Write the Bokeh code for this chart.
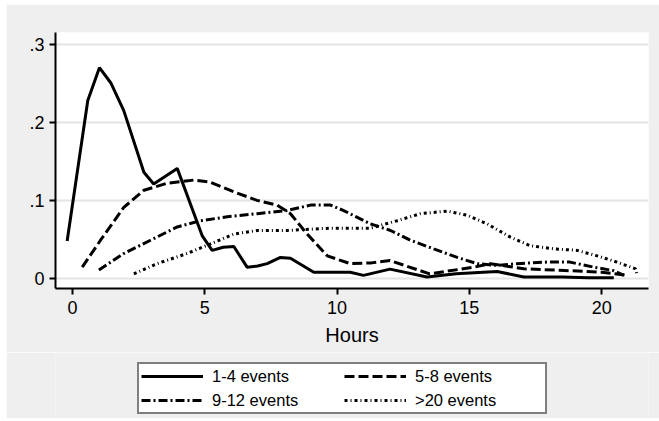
from bokeh.plotting import figure
from bokeh.layouts import column
from bokeh.models import Range1d, Legend, LegendItem, FixedTicker
from bokeh.embed import file_html
from bokeh.resources import INLINE

# ---- data ----
x_1_4 = [-0.2, 0.58, 1.02, 1.46, 1.94, 2.7, 3.07, 3.96, 4.9, 5.28, 5.7, 6.1, 6.6, 7.0, 7.36, 7.86, 8.24, 9.12, 9.75,
         10.5, 11.0, 12.0, 13.4, 14.5, 16.05, 17.06, 18.5, 19.5, 20.46]
y_1_4 = [0.048, 0.228, 0.270, 0.250, 0.215, 0.136, 0.121, 0.141, 0.055, 0.036, 0.040, 0.041, 0.0145, 0.016, 0.019, 0.027, 0.026, 0.008, 0.008,
         0.008, 0.004, 0.012, 0.002, 0.006, 0.009, 0.002, 0.002, 0.001, 0.001]

x_5_8 = [0.37, 1.06, 1.94, 2.7, 3.58, 4.58, 5.2, 6.1, 6.98, 7.74, 8.24, 8.87, 9.63, 10.5, 11.3, 12.0, 13.5, 15.17, 15.8, 17.06, 18.6, 20.0, 20.96]
y_5_8 = [0.0145, 0.049, 0.091, 0.113, 0.122, 0.126, 0.1235, 0.111, 0.100, 0.094, 0.083, 0.057, 0.029, 0.019, 0.020, 0.023, 0.006, 0.0145, 0.019, 0.0124, 0.0103, 0.008, 0.004]

x_9_12 = [1.0, 1.94, 2.95, 3.96, 4.84, 5.85, 6.98, 8.11, 9.0, 9.75, 10.25, 11.26, 12.02, 12.77, 13.65, 14.54, 15.3, 16.05, 16.8, 17.94, 18.8, 19.7, 20.46, 20.84]
y_9_12 = [0.011, 0.032, 0.049, 0.066, 0.074, 0.079, 0.083, 0.087, 0.094, 0.094, 0.087, 0.070, 0.0615, 0.049, 0.038, 0.027, 0.019, 0.0167, 0.019, 0.021, 0.021, 0.0145, 0.010, 0.004]

x_20 = [2.32, 3.2, 4.33, 5.2, 6.1, 6.98, 8.11, 9.75, 11.26, 12.27, 13.15, 14.16, 14.92, 15.67, 16.55, 17.3, 18.19, 19.07, 19.83, 20.58, 21.28, 21.34]
y_20 = [0.006, 0.019, 0.032, 0.044, 0.057, 0.0615, 0.0615, 0.0645, 0.0645, 0.074, 0.083, 0.0863, 0.081, 0.070, 0.053, 0.042, 0.038, 0.036, 0.029, 0.021, 0.0124, 0.004]

series_labels = ["1-4 events", "5-8 events", "9-12 events", ">20 events"]
y_ticks = [0, 0.1, 0.2, 0.3]
y_tick_labels = ["0", ".1", ".2", ".3"]
x_ticks = [0, 5, 10, 15, 20]

FONT = "Liberation Sans"
BG = "#efefef"
series = [(x_1_4, y_1_4, None), (x_5_8, y_5_8, "10 4"), (x_9_12, y_9_12, "9 3 2 3"), (x_20, y_20, "3 3 1 3")]

# ---- main chart ----
p = figure(width=653, height=348, output_backend="svg", toolbar_location=None,
           x_range=Range1d(-0.64, 21.77), y_range=Range1d(-0.0128, 0.315),
           min_border_left=49, min_border_right=11, min_border_top=28, min_border_bottom=64)
p.background_fill_color = "white"
p.border_fill_color = BG
p.outline_line_color = None

p.xgrid.grid_line_color = None
p.ygrid.grid_line_color = "#e4e4e4"
p.ygrid.grid_line_width = 2
p.ygrid.ticker = FixedTicker(ticks=y_ticks)

for ax in (p.xaxis[0], p.yaxis[0]):
    ax.axis_line_color = "black"
    ax.axis_line_width = 2
    ax.major_tick_line_color = "black"
    ax.major_tick_line_width = 2
    ax.major_tick_out = 6
    ax.major_tick_in = 0
    ax.minor_tick_line_color = None
    ax.major_label_text_font = FONT
    ax.major_label_text_font_size = "18px"
    ax.major_label_text_color = "black"

p.xaxis.major_label_standoff = 6
p.yaxis.major_label_standoff = 5
p.xaxis.ticker = FixedTicker(ticks=x_ticks)
p.yaxis.ticker = FixedTicker(ticks=y_ticks)
p.yaxis.major_label_overrides = {t: l for t, l in zip(y_ticks, y_tick_labels)}
p.xaxis.axis_label = "Hours"
p.xaxis.axis_label_text_font = FONT
p.xaxis.axis_label_text_font_size = "20px"
p.xaxis.axis_label_text_font_style = "normal"
p.xaxis.axis_label_text_color = "black"
p.xaxis.axis_label_standoff = 7

for xs, ys, dash in series:
    kw = dict(line_color="black", line_width=3)
    if dash:
        kw["line_dash"] = dash
    p.line(xs, ys, **kw)

# ---- legend strip (same series, hidden, only their legend entries shown) ----
p2 = figure(width=653, height=66, output_backend="svg", toolbar_location=None,
            x_axis_type=None, y_axis_type=None,
            x_range=Range1d(-0.64, 21.77), y_range=Range1d(-0.0128, 0.315),
            min_border_left=0, min_border_right=0, min_border_top=0, min_border_bottom=0)
p2.background_fill_color = BG
p2.border_fill_color = BG
p2.outline_line_color = None
rs = []
for xs, ys, dash in series:
    kw = dict(line_color="black", line_width=3)
    if dash:
        kw["line_dash"] = dash
    rs.append(p2.line(xs, ys, visible=False, **kw))

order = [0, 2, 1, 3]
legend = Legend(items=[LegendItem(label=series_labels[i], renderers=[rs[i]]) for i in order],
                ncols=2, location=(82, 4),
                border_line_color="black", border_line_width=2,
                background_fill_color="white", background_fill_alpha=1,
                label_text_font=FONT, label_text_font_size="16.5px", label_text_color="black",
                glyph_width=62, glyph_height=20, label_height=20,
                label_standoff=9, label_width=128, spacing=4, padding=2, margin=0)
p2.add_layout(legend, "center")

layout = column(p, p2, spacing=0, margin=(4, 0, 0, 6))
open("out.html", "w").write(file_html(layout, INLINE))
